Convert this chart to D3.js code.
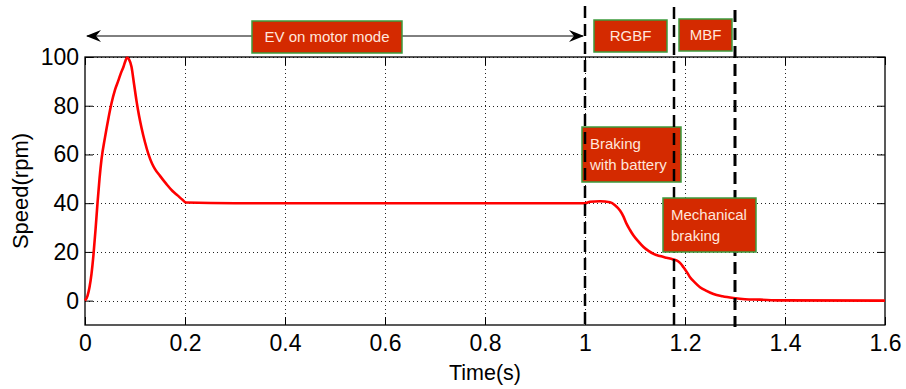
<!DOCTYPE html>
<html>
<head>
<meta charset="utf-8">
<script src="https://cdn.jsdelivr.net/npm/d3@7"></script>
<style>
  body { margin: 0; background: #fff; }
  svg { display: block; font-family: "Liberation Sans", Arial, sans-serif; }
</style>
</head>
<body>
<svg id="chart"></svg>
<script>
// speed curve samples
const timeValues = [0, 0.005, 0.009, 0.013, 0.017, 0.021, 0.025, 0.029, 0.033, 0.04,
  0.047, 0.053, 0.06, 0.067, 0.072, 0.077, 0.081, 0.084, 0.088, 0.093,
  0.098, 0.103, 0.108, 0.113, 0.12, 0.127, 0.134, 0.14, 0.15, 0.163,
  0.175, 0.185, 0.195, 0.202, 0.3, 0.5, 0.8, 1.0, 1.01, 1.03,
  1.05, 1.06, 1.07, 1.077, 1.083, 1.09, 1.097, 1.107, 1.117, 1.127,
  1.137, 1.15, 1.163, 1.175, 1.183, 1.19, 1.197, 1.204, 1.21, 1.22,
  1.23, 1.243, 1.257, 1.275, 1.297, 1.32, 1.35, 1.39, 1.6];
const speedValues = [0, 2, 5.5, 11, 19, 29, 40, 50, 58, 67,
  75, 81, 86.5, 90.5, 93.5, 96, 98.5, 99.8, 99, 96,
  89, 82, 76, 71, 65, 60, 56.3, 54, 51.2, 47.8,
  45, 43.2, 41.4, 40.3, 40, 40, 40, 40, 40.6, 40.8,
  40.4, 39.2, 37, 34.5, 31.6, 29, 26.7, 24.2, 22, 20.4,
  19.2, 18.3, 17.6, 17, 16.5, 15.5, 13.7, 11.6, 9.6, 7.4,
  5.5, 4, 2.7, 1.8, 1.1, 0.6, 0.4, 0.1, 0];

const xTicks = [0, 0.2, 0.4, 0.6, 0.8, 1, 1.2, 1.4, 1.6];
const yTicks = [0, 20, 40, 60, 80, 100];
const phaseBounds = [1.0, 1.178, 1.30];
const boxLabels = [["EV on motor mode"], ["RGBF"], ["MBF"], ["Braking", "with battery"], ["Mechanical", "braking"]];

const width = 906, height = 389;
const margin = { top: 57, right: 21, bottom: 64, left: 85 };

const svg = d3.select("#chart")
  .attr("width", width)
  .attr("height", height)
  .attr("viewBox", [0, 0, width, height]);

const x = d3.scaleLinear().domain([0, 1.6]).range([margin.left, width - margin.right]);
const y = d3.scaleLinear().domain([-10, 100]).range([height - margin.bottom, margin.top]);

const x0 = x.range()[0], x1 = x.range()[1];
const y0 = y.range()[0], y1 = y.range()[1];

// grid (dotted)
const grid = svg.append("g").attr("stroke", "#222").attr("stroke-width", 1).attr("stroke-dasharray", "1,3");
grid.selectAll(".gx").data(xTicks.slice(1, -1)).join("line")
  .attr("x1", d => Math.round(x(d)) + 0.5).attr("x2", d => Math.round(x(d)) + 0.5)
  .attr("y1", y1).attr("y2", y0);
grid.selectAll(".gy").data(yTicks).join("line")
  .attr("y1", d => Math.round(y(d)) + 0.5).attr("y2", d => Math.round(y(d)) + 0.5)
  .attr("x1", x0).attr("x2", x1);

// axes, ticks inward on all sides
const tickLen = 8;
svg.append("g").attr("transform", `translate(0,${y0})`)
  .call(d3.axisBottom(x).tickValues(xTicks).tickFormat(d3.format("")).tickSizeInner(-tickLen).tickSizeOuter(0).tickPadding(10))
  .call(g => g.select(".domain").remove())
  .call(g => g.selectAll("text").attr("font-size", 23).attr("fill", "#000"));
svg.append("g").attr("transform", `translate(0,${y1})`)
  .call(d3.axisTop(x).tickValues(xTicks).tickFormat("").tickSizeInner(-tickLen).tickSizeOuter(0))
  .call(g => g.select(".domain").remove());
svg.append("g").attr("transform", `translate(${x0},0)`)
  .call(d3.axisLeft(y).tickValues(yTicks).tickSizeInner(-tickLen).tickSizeOuter(0).tickPadding(6))
  .call(g => g.select(".domain").remove())
  .call(g => g.selectAll("text").attr("font-size", 23).attr("fill", "#000"));
svg.append("g").attr("transform", `translate(${x1},0)`)
  .call(d3.axisRight(y).tickValues(yTicks).tickFormat("").tickSizeInner(-tickLen).tickSizeOuter(0))
  .call(g => g.select(".domain").remove());
svg.selectAll(".tick line").attr("stroke", "#000");

svg.append("rect")
  .attr("x", x0).attr("y", y1).attr("width", x1 - x0).attr("height", y0 - y1)
  .attr("fill", "none").attr("stroke", "#000").attr("stroke-width", 1.3);

// axis titles
svg.append("text").attr("x", (x0 + x1) / 2).attr("y", 380)
  .attr("text-anchor", "middle").attr("font-size", 21.5).text("Time(s)");
svg.append("text").attr("transform", `translate(28,${(y0 + y1) / 2}) rotate(-90)`)
  .attr("text-anchor", "middle").attr("font-size", 22).text("Speed(rpm)");

// speed curve
const series = timeValues.map((t, i) => ({ t, v: speedValues[i] }));
const line = d3.line().curve(d3.curveMonotoneX).x(d => x(d.t)).y(d => y(d.v));
svg.append("path").datum(series)
  .attr("fill", "none").attr("stroke", "#ff0000").attr("stroke-width", 2.6)
  .attr("d", line);

// annotation boxes
const boxFill = "#d42a00", boxStroke = "#3c9a3c", boxText = "#ffe6dc";
function box(lines, bx, by, bw, bh, anchor, tx) {
  const g = svg.append("g");
  g.append("rect").attr("x", bx).attr("y", by).attr("width", bw).attr("height", bh)
    .attr("fill", boxFill).attr("stroke", boxStroke).attr("stroke-width", 1.5);
  const lh = 21;
  const startY = by + bh / 2 - (lines.length - 1) * lh / 2;
  lines.forEach((s, i) => {
    g.append("text")
      .attr("x", anchor === "middle" ? bx + bw / 2 : bx + tx)
      .attr("y", startY + i * lh)
      .attr("dy", "0.36em")
      .attr("text-anchor", anchor)
      .attr("font-size", 15).attr("fill", boxText)
      .text(s);
  });
  return g;
}

// double arrow for motor mode
const arrowY = 36;
svg.append("line").attr("x1", x(0) + 2).attr("x2", x(phaseBounds[0]) - 2)
  .attr("y1", arrowY).attr("y2", arrowY).attr("stroke", "#000").attr("stroke-width", 1);
const headL = x(0) + 1, headR = x(phaseBounds[0]) - 1;
svg.append("path").attr("fill", "#000")
  .attr("d", `M${headL},${arrowY} L${headL + 15},${arrowY - 6} L${headL + 10},${arrowY} L${headL + 15},${arrowY + 6} Z`);
svg.append("path").attr("fill", "#000")
  .attr("d", `M${headR},${arrowY} L${headR - 15},${arrowY - 6} L${headR - 10},${arrowY} L${headR - 15},${arrowY + 6} Z`);

box(boxLabels[0], 252, 21, 150, 32, "middle");
box(boxLabels[1], 594, 20, 73, 32, "middle");
box(boxLabels[2], 679, 19, 53, 32, "middle");
box(boxLabels[3], 582, 127, 99, 55, "start", 8);

// phase boundaries (dashed)
svg.append("g").selectAll("line").data(phaseBounds).join("line")
  .attr("x1", d => x(d)).attr("x2", d => x(d))
  .attr("y1", (d, i) => [6, 7, 10][i]).attr("y2", y0 + 2)
  .attr("stroke", "#000").attr("stroke-width", (d, i) => i === 2 ? 3 : 2.5)
  .attr("stroke-dasharray", "12,6");

box(boxLabels[4], 663, 198, 93, 54, "start", 8);
</script>
</body>
</html>
